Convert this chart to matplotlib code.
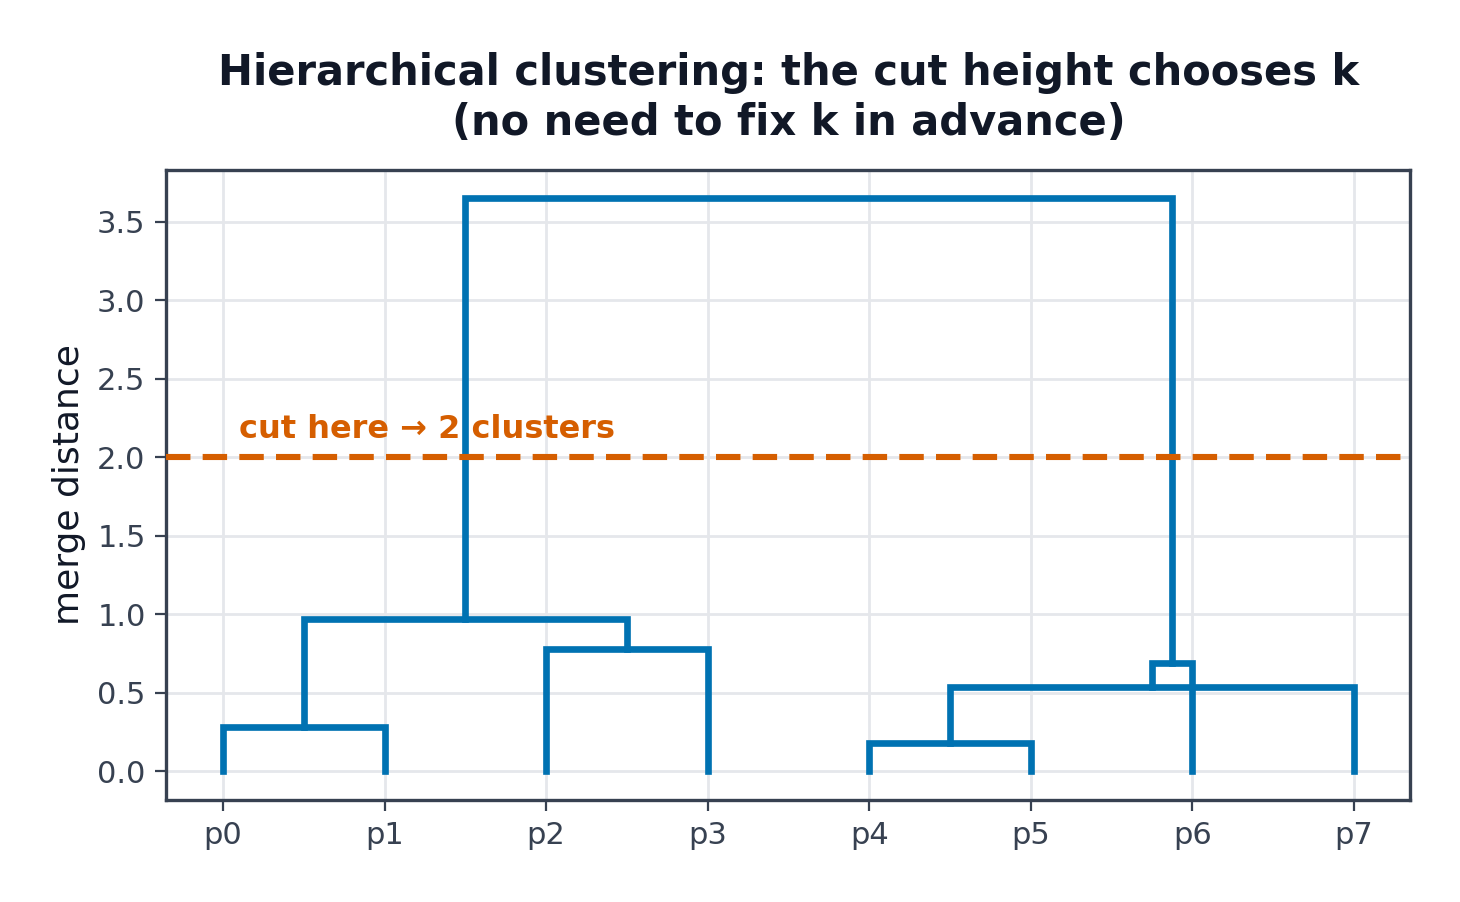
import matplotlib
matplotlib.use('Agg')
import matplotlib.pyplot as plt

leaves = ['p0', 'p1', 'p2', 'p3', 'p4', 'p5', 'p6', 'p7']
# merges: (left child, right child, height); children are leaf names or merge ids
merges = [
    ('p0', 'p1', 0.28),
    ('p4', 'p5', 0.18),
    ('p2', 'p3', 0.78),
    ('m1', 'p7', 0.54),
    ('m3', 'p6', 0.69),
    ('m0', 'm2', 0.97),
    ('m5', 'm4', 3.65),
]
cut_height = 2.0

blue = '#0072B2'
orange = '#D55E00'
ink = '#111827'
axis_col = '#374151'

fig, ax = plt.subplots(figsize=(7.3, 4.51), dpi=200)

pos = {name: (i, 0.0) for i, name in enumerate(leaves)}
for k, (a, b, h) in enumerate(merges):
    xa, ha = pos[a]
    xb, hb = pos[b]
    ax.plot([xa, xa, xb, xb], [ha, h, h, hb], color=blue, lw=2.4,
            solid_joinstyle='miter', zorder=3)
    pos['m%d' % k] = ((xa + xb) / 2, h)

ax.axhline(cut_height, color=orange, ls='--', lw=2.2, dashes=(4, 2), zorder=4)
ax.text(0.1, cut_height + 0.08, 'cut here \u2192 2 clusters', color=orange,
        fontsize=11.5, fontweight='bold', va='bottom', ha='left')

ax.set_xticks(range(len(leaves)))
ax.set_xticklabels(leaves)
ax.set_xlim(-0.35, 7.35)
ax.set_ylim(-0.1825, 3.8325)
ax.set_ylabel('merge distance', fontsize=13, color=ink)
ax.set_title('Hierarchical clustering: the cut height chooses k\n(no need to fix k in advance)',
             fontsize=15, fontweight='bold', color=ink, pad=12.5, linespacing=1.25)

ax.grid(True, color='#e5e7eb', lw=1.0, zorder=0)
ax.set_axisbelow(True)
for s in ax.spines.values():
    s.set_color(axis_col)
    s.set_linewidth(1.2)
ax.tick_params(colors=axis_col, labelsize=11, length=4)

fig.subplots_adjust(left=0.114, right=0.966, top=0.812, bottom=0.113)
fig.savefig('out.png', dpi=200)
